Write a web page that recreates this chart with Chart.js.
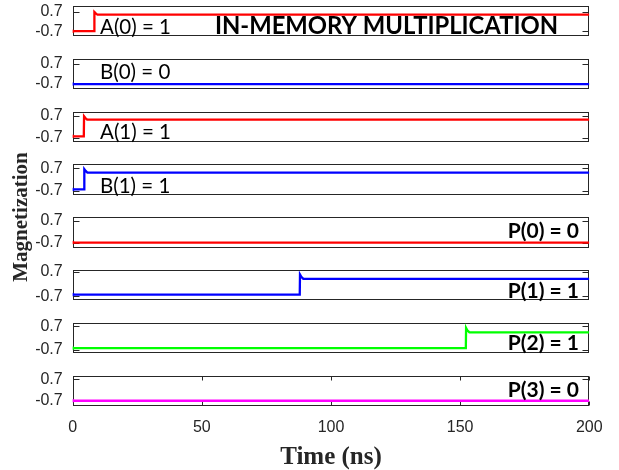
<!DOCTYPE html>
<html><head><meta charset="utf-8">
<script src="https://cdn.jsdelivr.net/npm/chart.js@4.4.0/dist/chart.umd.min.js"></script>
<style>html,body{margin:0;padding:0;background:#fff;}#wrap{position:relative;width:619px;height:470px;}</style>
</head><body><div id="wrap"><canvas id="c" width="619" height="470"></canvas></div>
<script>
// ---- data ----
const panelLabels = ['A(0) = 1', 'B(0) = 0', 'A(1) = 1', 'B(1) = 1', 'P(0) = 0', 'P(1) = 1', 'P(2) = 1', 'P(3) = 0'];
const panelColors = ['#ff0000', '#0000ff', '#ff0000', '#0000ff', '#ff0000', '#0000ff', '#00ff00', '#ff00ff'];
const tA0 = [0, 8.3, 8.4, 9.0, 9.6, 200];
const mA0 = [-0.68, -0.68, 0.66, 0.55, 0.48, 0.48];
const tB0 = [0, 200];
const mB0 = [-0.7, -0.7];
const tA1 = [0, 4.3, 4.4, 4.9, 5.6, 200];
const mA1 = [-0.6, -0.6, 0.66, 0.55, 0.445, 0.445];
const tB1 = [0, 4.4, 4.5, 5.0, 5.7, 200];
const mB1 = [-0.62, -0.62, 0.66, 0.55, 0.445, 0.445];
const tP0 = [0, 200];
const mP0 = [-0.7, -0.7];
const tP1 = [0, 87.9, 88.0, 88.5, 89.3, 200];
const mP1 = [-0.6, -0.6, 0.55, 0.42, 0.30, 0.30];
const tP2 = [0, 152.2, 152.3, 152.8, 153.6, 200];
const mP2 = [-0.6, -0.6, 0.6, 0.45, 0.34, 0.34];
const tP3 = [0, 200];
const mP3 = [-0.7, -0.7];
const seriesT = [tA0, tB0, tA1, tB1, tP0, tP1, tP2, tP3];
const seriesM = [mA0, mB0, mA1, mB1, mP0, mP1, mP2, mP3];
const yTickValues = [-0.7, 0.7];
const xTickValues = [0, 50, 100, 150, 200];
const yMins = [-1.04, -1.05, -0.955, -0.955, -1.02, -0.93, -0.90, -1.04];
const yMaxs = [1.09, 1.04, 0.955, 0.955, 0.92, 0.80, 0.90, 0.92];
const chartTitle = 'IN-MEMORY MULTIPLICATION';
const yTitle = 'Magnetization';
const xTitle = 'Time (ns)';

// ---- layout config ----
const AREA_LEFT = 72.7, AREA_RIGHT = 589.3, AREA_TOP = 6, AREA_BOTTOM = 406;
const PANEL_W = 30.3, GAP_W = 22.5;
const labelBaselines = [28.3, 19.8, 27, 28.7, 20.9, 27.9, 26.8, 21.3];
const tickFont = {family: 'Liberation Sans', size: 16};
const ink = '#262626';

const panelIds = panelLabels.map((_, i) => 'y' + i);
const scales = {
  x: {
    type: 'linear', position: 'bottom', min: 0, max: 200,
    afterBuildTicks: s => { s.ticks = xTickValues.map(v => ({value: v})); },
    ticks: {font: tickFont, color: ink, padding: 12, maxRotation: 0, autoSkip: false},
    grid: {display: false, drawTicks: false},
    border: {display: false},
    title: {display: true, text: xTitle, color: ink,
      font: {family: 'Liberation Serif', size: 25, weight: 'bold', lineHeight: 1.0}, padding: {top: 0, bottom: 0}},
    afterFit: s => { s.height = 470 - AREA_BOTTOM; s.paddingLeft = 0; s.paddingRight = 0; }
  }
};
let w = 40;
panelIds.forEach((id, i) => {
  scales[id] = {
    type: 'linear', axis: 'y', position: 'left', stack: 'panels', stackWeight: PANEL_W, weight: w--,
    min: yMins[i], max: yMaxs[i],
    afterBuildTicks: s => { s.ticks = yTickValues.map(v => ({value: v})); },
    ticks: {font: tickFont, color: ink, padding: 10, autoSkip: false, callback: v => v.toFixed(1)},
    grid: {display: false, drawTicks: false},
    border: {display: false},
    afterFit: s => { s.width = AREA_LEFT; s.paddingTop = 0; s.paddingBottom = 0; }
  };
  if (i < panelIds.length - 1) {
    scales['gap' + i] = {type: 'linear', axis: 'y', position: 'left', stack: 'panels',
      stackWeight: GAP_W, weight: w--, display: false};
  }
});

const datasets = seriesT.map((t, i) => ({
  data: t.map((x, k) => ({x: x, y: seriesM[i][k]})),
  yAxisID: panelIds[i],
  borderColor: panelColors[i],
  backgroundColor: panelColors[i],
  borderWidth: 2.3,
  pointRadius: ctx => ctx.dataIndex === 0 ? 1.8 : 0,
  pointBorderWidth: 0,
  tension: 0,
  fill: false
}));

function seg(ctx, x1, y1, x2, y2) { ctx.beginPath(); ctx.moveTo(x1, y1); ctx.lineTo(x2, y2); ctx.stroke(); }

const panelPlugin = {
  id: 'panels',
  beforeDatasetsDraw(chart) {
    const ctx = chart.ctx; const {left, right} = chart.chartArea;
    const L = Math.round(left) + 0.5, R = Math.round(right) - 0.5;
    ctx.save(); ctx.strokeStyle = ink; ctx.lineWidth = 1;
    panelIds.forEach((id, i) => {
      const s = chart.scales[id];
      const T = Math.round(s.top) + 0.5, B = Math.round(s.bottom) - 0.5;
      ctx.strokeRect(L, T, R - L, B - T);
      yTickValues.forEach(v => {
        const y = Math.round(s.getPixelForValue(v)) + 0.5;
        seg(ctx, L, y, L + 6, y); seg(ctx, R - 6, y, R, y);
      });
      if (i === panelIds.length - 1) {
        xTickValues.forEach(v => {
          const x = Math.round(chart.scales.x.getPixelForValue(v)) + 0.5;
          seg(ctx, x, B, x, B - 4); seg(ctx, x, T, x, T + 4);
        });
      }
    });
    ctx.restore();
  },
  afterDatasetsDraw(chart) {
    const ctx = chart.ctx;
    ctx.save(); ctx.fillStyle = '#000'; ctx.textBaseline = 'alphabetic';
    panelIds.forEach((id, i) => {
      const s = chart.scales[id];
      if (i < 4) {
        ctx.font = '20.5px Lato'; ctx.textAlign = 'left';
        ctx.fillText(panelLabels[i], 100, s.top + labelBaselines[i]);
      } else {
        ctx.font = 'bold 21px Lato'; ctx.textAlign = 'right';
        ctx.fillText(panelLabels[i], 579, s.top + labelBaselines[i]);
      }
    });
    ctx.font = 'bold 23.8px Lato'; ctx.textAlign = 'center';
    ctx.fillText(chartTitle, 386.5, chart.scales[panelIds[0]].top + 27.5);
    ctx.fillStyle = ink;
    ctx.translate(21.5, 217); ctx.rotate(-Math.PI / 2);
    ctx.font = 'bold 21px "Liberation Serif"'; ctx.textBaseline = 'middle';
    ctx.fillText(yTitle, 0, 0);
    ctx.restore();
  }
};

new Chart(document.getElementById('c'), {
  type: 'line',
  data: {datasets},
  options: {
    responsive: false, animation: false, devicePixelRatio: 1,
    layout: {padding: {left: 0, right: 619 - AREA_RIGHT, top: AREA_TOP, bottom: 0}},
    plugins: {legend: {display: false}, tooltip: {enabled: false}},
    scales
  },
  plugins: [panelPlugin]
});
</script></body></html>
